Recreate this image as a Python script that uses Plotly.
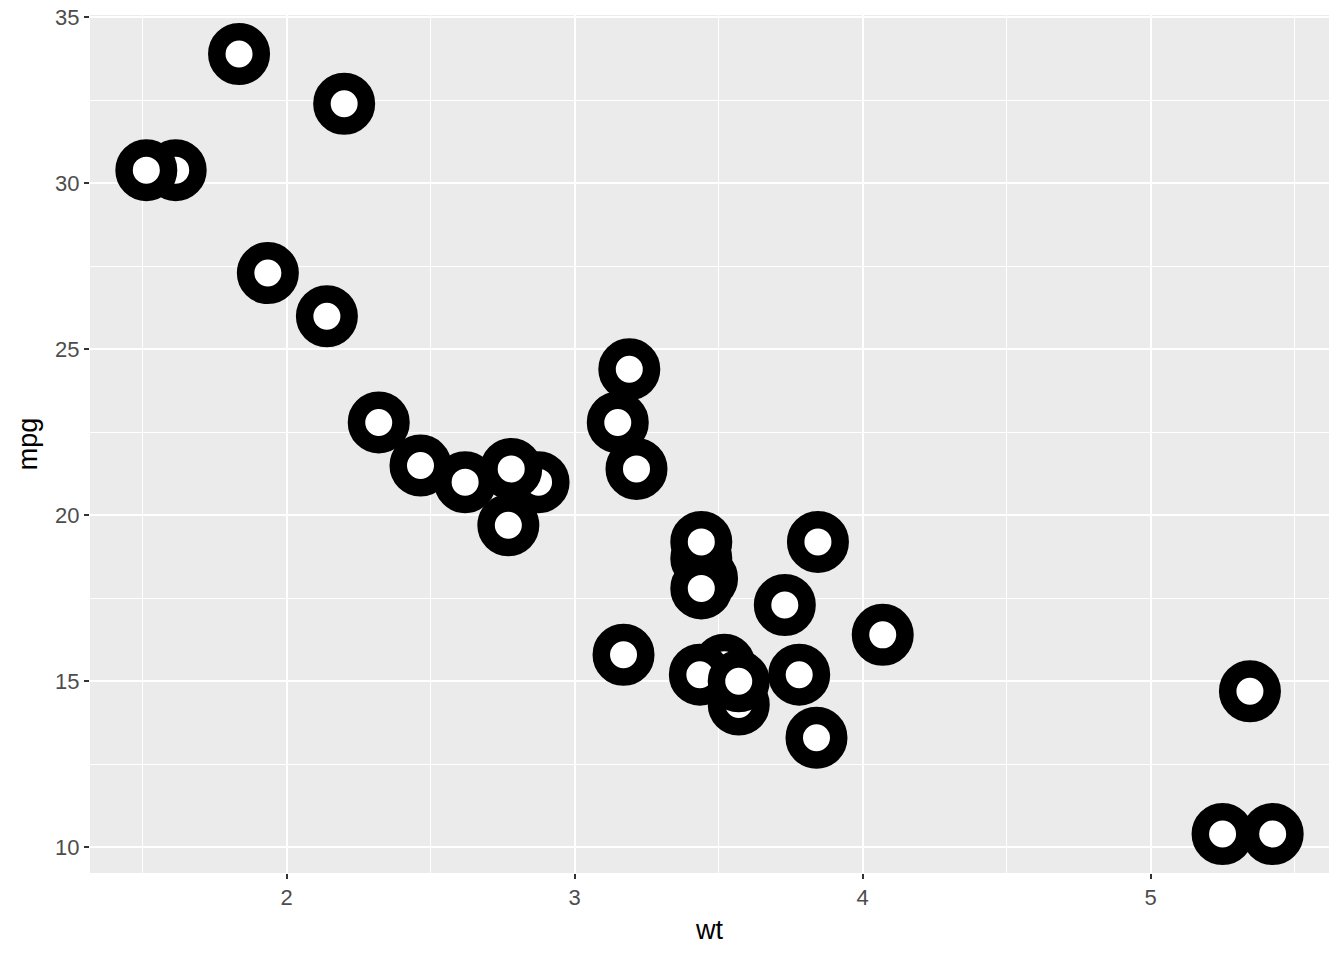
import plotly.graph_objects as go

wt = [2.620, 2.875, 2.320, 3.215, 3.440, 3.460, 3.570, 3.190, 3.150, 3.440, 3.440,
      4.070, 3.730, 3.780, 5.250, 5.424, 5.345, 2.200, 1.615, 1.835, 2.465, 3.520,
      3.435, 3.840, 3.845, 1.935, 2.140, 1.513, 3.170, 2.770, 3.570, 2.780]
mpg = [21.0, 21.0, 22.8, 21.4, 18.7, 18.1, 14.3, 24.4, 22.8, 19.2, 17.8,
       16.4, 17.3, 15.2, 10.4, 10.4, 14.7, 32.4, 30.4, 33.9, 21.5, 15.5,
       15.2, 13.3, 19.2, 27.3, 26.0, 30.4, 15.8, 19.7, 15.0, 21.4]

x_ticks = [2, 3, 4, 5]
y_ticks = [10, 15, 20, 25, 30, 35]
x_minor = [1.5, 2.5, 3.5, 4.5, 5.5]
y_minor = [12.5, 17.5, 22.5, 27.5, 32.5]

FONT = "Liberation Sans, Arial, sans-serif"

fig = go.Figure()
for x, y in zip(wt, mpg):
    fig.add_trace(go.Scatter(
        x=[x], y=[y], mode="markers",
        marker=dict(size=44.5, color="white", line=dict(color="black", width=17.5)),
        showlegend=False, hoverinfo="skip", cliponaxis=False,
    ))

xr0, xr1 = min(wt), max(wt)
yr0, yr1 = min(mpg), max(mpg)
dx = (xr1 - xr0) * 0.05
dy = (yr1 - yr0) * 0.05

axis_common = dict(
    showgrid=True, gridcolor="white", gridwidth=2,
    zeroline=False, showline=False, automargin=False,
    ticklabeloverflow="allow",
    ticks="outside", ticklen=5, tickwidth=2, tickcolor="#333333",
    tickfont=dict(family=FONT, size=22, color="#4D4D4D"),
)

fig.update_layout(
    width=1344, height=960,
    margin=dict(l=90, r=15, t=15, b=87),
    paper_bgcolor="white", plot_bgcolor="#EBEBEB",
    xaxis=dict(range=[xr0 - dx, xr1 + dx], tickvals=x_ticks,
               minor=dict(tickvals=x_minor, showgrid=True, gridcolor="white", gridwidth=1, ticks=""),
               title=dict(text="wt", font=dict(family=FONT, size=27, color="black"), standoff=10),
               **axis_common),
    yaxis=dict(range=[yr0 - dy, yr1 + dy], tickvals=y_ticks,
               minor=dict(tickvals=y_minor, showgrid=True, gridcolor="white", gridwidth=1, ticks=""),
               title=dict(text="mpg", font=dict(family=FONT, size=27, color="black"), standoff=9),
               **axis_common),
)

fig.write_html("out.html", config={"displayModeBar": False},
               post_script="document.body.style.margin='0';")
